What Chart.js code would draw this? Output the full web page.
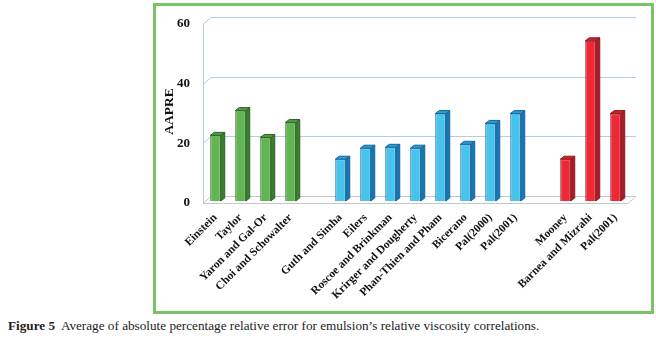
<!DOCTYPE html>
<html>
<head>
<meta charset="utf-8">
<script src="https://cdn.jsdelivr.net/npm/chart.js@4"></script>
<style>
    body { margin: 0; background: #fff; width: 656px; height: 340px; position: relative; overflow: hidden; }
    #box {
        position: absolute; left: 153px; top: 3px; width: 495px; height: 305px;
        border: 3px solid #79c266;
    }
    #caption {
        position: absolute; left: 8px; top: 318px; margin: 0;
        font-family: "Liberation Serif", serif; font-size: 13.2px; color: #222; white-space: nowrap;
    }
</style>
</head>
<body>
<div id="box"><canvas id="myChart" width="495" height="305"></canvas></div>
<p id="caption"><b>Figure 5</b>&nbsp; Average of absolute percentage relative error for emulsion’s relative viscosity correlations.</p>
<script>
    // categories ('' = empty slot between groups)
    var labels = ["Einstein", "Taylor", "Yaron and Gal-Or", "Choi and Schowalter", "",
        "Guth and Simha", "Eilers", "Roscoe and Brinkman", "Krirger and Dougherty", "Phan-Thien and Pham",
        "Bicerano", "Pal(2000)", "Pal(2001)", "",
        "Mooney", "Barnea and Mizrahi", "Pal(2001)"];
    var aapre = [22, 30.3, 21.3, 26.3, null,
        14, 17.7, 18, 17.7, 29.3,
        19, 26, 29.3, null,
        14, 53.7, 29.3];
    var groups = ["g", "g", "g", "g", "", "b", "b", "b", "b", "b", "b", "b", "b", "", "r", "r", "r"];
    var yTicks = [0, 20, 40, 60];

    var palette = {
        g: { front: "#62b651", side: "#3a7d33", top: "#4f9a43", edge: "#2c6427" },
        b: { front: "#47c3ec", side: "#1877b2", top: "#2a9bd3", edge: "#15649a" },
        r: { front: "#ee2834", side: "#a81d27", top: "#c8232e", edge: "#8e1820" },
        "": { front: "#fff", side: "#fff", top: "#fff", edge: "#fff" }
    };

    var DX = 8, DY = -7;   // wall depth
    var BX = 4, BY = -3;   // bar depth
    var FRONT = 2;         // front edge of floor sits a bit below the bars

    var frame3d = {
        id: "frame3d",
        beforeDatasetsDraw: function (chart) {
            var ctx = chart.ctx, y = chart.scales.y;
            var l = chart.chartArea.left, r = chart.chartArea.right;
            ctx.save();
            ctx.lineWidth = 1;
            ctx.strokeStyle = "#b5cde3";
            yTicks.forEach(function (v) {
                if (v === 0) return;
                var py = Math.round(y.getPixelForValue(v)) + 0.5 + FRONT;
                ctx.beginPath();
                ctx.moveTo(l, py);
                ctx.lineTo(l + DX, py + DY);
                ctx.lineTo(r + DX, py + DY);
                ctx.stroke();
            });
            // left wall
            var y0 = Math.round(y.getPixelForValue(0)) + 0.5 + FRONT;
            var yT = Math.round(y.getPixelForValue(60)) + 0.5 + FRONT;
            ctx.beginPath();
            ctx.moveTo(l + 0.5, yT);
            ctx.lineTo(l + 0.5, y0);
            ctx.stroke();
            // floor
            ctx.strokeStyle = "#c4c8cc";
            ctx.beginPath();
            ctx.moveTo(l, y0);
            ctx.lineTo(r, y0);
            ctx.lineTo(r + DX, y0 + DY);
            ctx.lineTo(l + DX, y0 + DY);
            ctx.lineTo(l, y0);
            ctx.stroke();
            ctx.restore();
        },
        afterDatasetsDraw: function (chart) {
            var ctx = chart.ctx;
            var meta = chart.getDatasetMeta(0);
            ctx.save();
            ctx.lineWidth = 1;
            meta.data.forEach(function (bar, i) {
                if (aapre[i] === null) return;
                var p = palette[groups[i]];
                var w = bar.width, x1 = bar.x + w / 2, x0 = bar.x - w / 2, t = bar.y, b = bar.base;
                ctx.strokeStyle = p.edge;
                // side face
                ctx.fillStyle = p.side;
                ctx.beginPath();
                ctx.moveTo(x1, t);
                ctx.lineTo(x1 + BX, t + BY);
                ctx.lineTo(x1 + BX, b + BY);
                ctx.lineTo(x1, b);
                ctx.closePath();
                ctx.fill(); ctx.stroke();
                // top face
                ctx.fillStyle = p.top;
                ctx.beginPath();
                ctx.moveTo(x0, t);
                ctx.lineTo(x0 + BX, t + BY);
                ctx.lineTo(x1 + BX, t + BY);
                ctx.lineTo(x1, t);
                ctx.closePath();
                ctx.fill(); ctx.stroke();
            });
            ctx.restore();
        }
    };

    var serif = "'Liberation Serif', 'Times New Roman', serif";

    new Chart("myChart", {
        type: "bar",
        data: {
            labels: labels,
            datasets: [{
                data: aapre,
                backgroundColor: groups.map(function (g) { return palette[g].front; }),
                borderColor: groups.map(function (g) { return palette[g].edge; }),
                borderWidth: 1,
                categoryPercentage: 1,
                barPercentage: 0.42
            }]
        },
        plugins: [frame3d],
        options: {
            responsive: false,
            animation: false,
            layout: { padding: { top: 16, right: 23, left: 0, bottom: 0 } },
            plugins: { legend: { display: false }, tooltip: { enabled: false } },
            scales: {
                x: {
                    grid: { display: false, drawTicks: false },
                    border: { display: false },
                    afterFit: function (s) { s.height = 110; s.paddingLeft = 0; s.paddingRight = 0; },
                    ticks: {
                        autoSkip: false, minRotation: 45, maxRotation: 45, padding: 10,
                        color: "#111", font: { family: serif, size: 11.5, weight: "bold" }
                    }
                },
                y: {
                    min: 0, max: 60,
                    afterBuildTicks: function (s) { s.ticks = yTicks.map(function (v) { return { value: v }; }); },
                    afterFit: function (s) { s.width = 47; s.paddingTop = 0; s.paddingBottom = 0; },
                    grid: { display: false, drawTicks: false },
                    border: { display: false },
                    title: {
                        display: true, text: "AAPRE", color: "#111", padding: { top: 5, bottom: 0 },
                        font: { family: serif, size: 13.5, weight: "bold" }
                    },
                    ticks: { padding: 13, labelOffset: 2, color: "#111", font: { family: serif, size: 13, weight: "bold" } }
                }
            }
        }
    });
</script>
</body>
</html>
